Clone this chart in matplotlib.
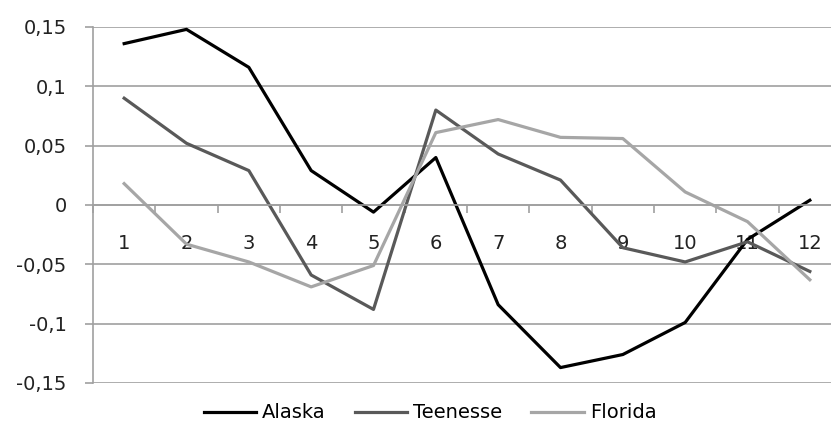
import matplotlib.pyplot as plt
import numpy as np

# Data
months = list(range(1, 13))
alaska = [0.136, 0.148, 0.116, 0.029, -0.006, 0.040, -0.084, -0.137, -0.126, -0.099, -0.029, 0.004]
teenesse = [0.090, 0.052, 0.029, -0.059, -0.088, 0.080, 0.043, 0.021, -0.036, -0.048, -0.031, -0.056]
florida = [0.018, -0.033, -0.048, -0.069, -0.051, 0.061, 0.072, 0.057, 0.056, 0.011, -0.014, -0.063]
yticks = [-0.15, -0.1, -0.05, 0, 0.05, 0.1, 0.15]
ytick_labels = ['-0,15', '-0,1', '-0,05', '0', '0,05', '0,1', '0,15']

plt.rcParams['font.family'] = 'DejaVu Sans'
grid_col = '#a0a0a0'

fig = plt.figure(figsize=(8.31, 4.29), dpi=100)
# plot area runs past the right edge, as in the cropped reference
ax = fig.add_axes([93/831, 46/429, 748/831, 356/429])

ax.plot(months, alaska, color='#000000', lw=2.3, label='Alaska')
ax.plot(months, teenesse, color='#595959', lw=2.3, label='Teenesse')
ax.plot(months, florida, color='#a6a6a6', lw=2.3, label='Florida')

ax.set_xlim(0.5, 12.5)
ax.set_ylim(-0.15, 0.15)
ax.set_yticks(yticks)
ax.set_yticklabels(ytick_labels)
ax.yaxis.grid(True, color=grid_col, lw=1.2)
ax.set_axisbelow(True)

for s in ['top', 'right']:
    ax.spines[s].set_visible(False)
ax.spines['left'].set_color(grid_col)
ax.spines['left'].set_linewidth(1.2)
ax.spines['bottom'].set_position(('data', 0))
ax.spines['bottom'].set_color(grid_col)
ax.spines['bottom'].set_linewidth(1.2)

ax.set_xticks(months)
ax.set_xticklabels([str(m) for m in months])
ax.set_xticks(np.arange(0.5, 13, 1), minor=True)
ax.tick_params(axis='x', which='major', length=0, pad=21, labelsize=14, colors='#222222')
ax.tick_params(axis='x', which='minor', length=6, width=1.2, color=grid_col, direction='out')
ax.tick_params(axis='y', length=6, width=1.2, color=grid_col, pad=13, labelsize=14, labelcolor='#222222')

fig.legend(loc='center', bbox_to_anchor=(430/831, 16/429), ncol=3, frameon=False,
           fontsize=14, handlelength=2.7, handletextpad=0.3, columnspacing=1.5)

fig.savefig('out.png', dpi=100)
